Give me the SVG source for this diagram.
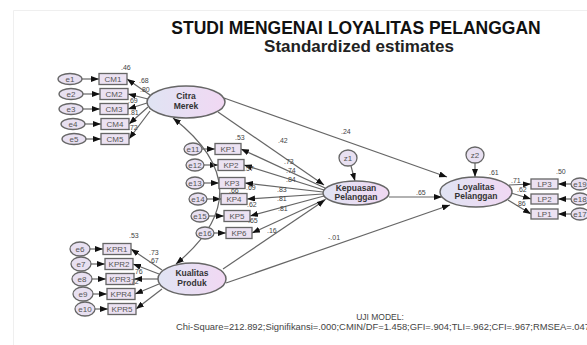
<svg xmlns="http://www.w3.org/2000/svg" width="587" height="345" viewBox="0 0 587 345">
<defs>
<linearGradient id="lat" x1="0" x2="1" y1="0" y2="0"><stop offset="0" stop-color="#e0e4f3"/><stop offset="1" stop-color="#f1d8f3"/></linearGradient>
<marker id="ah" viewBox="0 0 8 6" refX="8" refY="3" markerWidth="8" markerHeight="6" markerUnits="userSpaceOnUse" orient="auto-start-reverse"><path d="M0,0 L8,3 L0,6 z" fill="#111"/></marker>
<style>
.lat{fill:url(#lat);stroke:#666;stroke-width:1.5}
.obs{fill:#ece2f2;stroke:#666;stroke-width:1.3}
.err{fill:#e8e0f1;stroke:#666;stroke-width:1.3}
.c{stroke:#666;stroke-width:1.2;fill:none;marker-end:url(#ah)}
.t{font-family:"Liberation Sans",Arial,sans-serif;text-anchor:middle}
.lt{font-size:8.5px;font-weight:bold;fill:#333}
.ot{font-size:8px;fill:#555}
.n{font-family:"Liberation Sans",Arial,sans-serif;font-size:7px;fill:#444}
</style>
</defs>
<rect width="587" height="345" fill="#fff"/>
<path d="M13.5,345 V10.5 H587" fill="none" stroke="#efefef" stroke-width="1"/>
<g id="title" class="t">
<text x="356" y="34" font-size="17.5" font-weight="bold" fill="#111">STUDI MENGENAI LOYALITAS PELANGGAN</text>
<text x="359" y="52" font-size="17" font-weight="bold" fill="#222">Standardized estimates</text>
</g>
<g id="connectors">
<line class="c" x1="82" y1="79" x2="99" y2="79"/>
<line class="c" x1="83" y1="94" x2="100" y2="94"/>
<line class="c" x1="83" y1="109" x2="100" y2="109"/>
<line class="c" x1="85" y1="124" x2="101" y2="124"/>
<line class="c" x1="86" y1="139" x2="101" y2="139"/>
<line class="c" x1="150" y1="95" x2="127" y2="79"/>
<line class="c" x1="148" y1="99" x2="128" y2="94"/>
<line class="c" x1="147" y1="103" x2="128" y2="109"/>
<line class="c" x1="148" y1="107" x2="129" y2="124"/>
<line class="c" x1="150" y1="111" x2="129" y2="139"/>
<line class="c" x1="202" y1="149" x2="215" y2="149"/>
<line class="c" x1="204" y1="165" x2="218" y2="165"/>
<line class="c" x1="204" y1="183" x2="219" y2="183"/>
<line class="c" x1="207" y1="199" x2="221" y2="199"/>
<line class="c" x1="209" y1="216" x2="224" y2="216"/>
<line class="c" x1="214" y1="233" x2="226" y2="233"/>
<line class="c" x1="325" y1="188" x2="241" y2="149"/>
<line class="c" x1="324" y1="190" x2="244" y2="165"/>
<line class="c" x1="323" y1="192" x2="245" y2="183"/>
<line class="c" x1="323" y1="194" x2="247" y2="199"/>
<line class="c" x1="324" y1="196" x2="250" y2="216"/>
<line class="c" x1="326" y1="199" x2="252" y2="233"/>
<line class="c" x1="90" y1="249" x2="103" y2="249"/>
<line class="c" x1="91" y1="264" x2="105" y2="264"/>
<line class="c" x1="92" y1="279" x2="106" y2="279"/>
<line class="c" x1="93" y1="294" x2="107" y2="294"/>
<line class="c" x1="95" y1="309" x2="108" y2="309"/>
<line class="c" x1="162" y1="270" x2="131" y2="249"/>
<line class="c" x1="159" y1="274" x2="133" y2="264"/>
<line class="c" x1="158" y1="279" x2="134" y2="279"/>
<line class="c" x1="159" y1="284" x2="135" y2="294"/>
<line class="c" x1="162" y1="289" x2="136" y2="309"/>
<line class="c" x1="571" y1="184" x2="558" y2="184"/>
<line class="c" x1="571" y1="199" x2="558" y2="199"/>
<line class="c" x1="571" y1="214" x2="558" y2="214"/>
<line class="c" x1="509" y1="185" x2="531" y2="184"/>
<line class="c" x1="511" y1="193" x2="531" y2="199"/>
<line class="c" x1="508" y1="200" x2="531" y2="214"/>
<line class="c" x1="218" y1="112" x2="324" y2="185"/>
<line class="c" x1="224" y1="98" x2="447" y2="177"/>
<line class="c" x1="223" y1="269" x2="325" y2="200"/>
<line class="c" x1="226" y1="283" x2="450" y2="205"/>
<line class="c" x1="389" y1="197" x2="442" y2="197"/>
<line class="c" x1="351" y1="166" x2="355" y2="181"/>
<line class="c" x1="475" y1="163" x2="475" y2="177"/>
<path class="c" d="M173,118 Q265,190 176,264" marker-start="url(#ah)"/>
</g>
<g id="CitraMerek" class="t"><ellipse class="lat" cx="186" cy="102" rx="39" ry="16"/><text class="lt" x="186" y="99">Citra</text><text class="lt" x="186" y="109">Merek</text></g>
<g id="Kepuasan" class="t"><ellipse class="lat" cx="356" cy="193" rx="33" ry="12"/><text class="lt" x="356" y="191">Kepuasan</text><text class="lt" x="356" y="200">Pelanggan</text></g>
<g id="Loyalitas" class="t"><ellipse class="lat" cx="476" cy="192" rx="36" ry="15"/><text class="lt" x="476" y="190">Loyalitas</text><text class="lt" x="476" y="199">Pelanggan</text></g>
<g id="Kualitas" class="t"><ellipse class="lat" cx="192" cy="279" rx="34" ry="16"/><text class="lt" x="192" y="276">Kualitas</text><text class="lt" x="192" y="286">Produk</text></g>
<g id="z1" class="t"><ellipse class="err" cx="348" cy="158" rx="9" ry="8"/><text class="ot" x="348" y="161">z1</text></g>
<g id="z2" class="t"><ellipse class="err" cx="475" cy="155" rx="9" ry="8"/><text class="ot" x="475" y="158">z2</text></g>
<g id="CM1" class="t"><rect class="obs" x="99" y="73.5" width="28" height="11"/><text class="ot" x="113" y="82">CM1</text></g>
<g id="CM2" class="t"><rect class="obs" x="100" y="88.5" width="28" height="11"/><text class="ot" x="114" y="97">CM2</text></g>
<g id="CM3" class="t"><rect class="obs" x="100" y="103.5" width="28" height="11"/><text class="ot" x="114" y="112">CM3</text></g>
<g id="CM4" class="t"><rect class="obs" x="101" y="118.5" width="28" height="11"/><text class="ot" x="115" y="127">CM4</text></g>
<g id="CM5" class="t"><rect class="obs" x="101" y="133.5" width="28" height="11"/><text class="ot" x="115" y="142">CM5</text></g>
<g id="e1" class="t"><ellipse class="err" cx="70" cy="79" rx="12" ry="5.5"/><text class="ot" x="70" y="82">e1</text></g>
<g id="e2" class="t"><ellipse class="err" cx="71" cy="94" rx="12" ry="5.5"/><text class="ot" x="71" y="97">e2</text></g>
<g id="e3" class="t"><ellipse class="err" cx="71" cy="109" rx="12" ry="5.5"/><text class="ot" x="71" y="112">e3</text></g>
<g id="e4" class="t"><ellipse class="err" cx="73" cy="124" rx="12" ry="5.5"/><text class="ot" x="73" y="127">e4</text></g>
<g id="e5" class="t"><ellipse class="err" cx="74" cy="139" rx="12" ry="5.5"/><text class="ot" x="74" y="142">e5</text></g>
<g id="KP1" class="t"><rect class="obs" x="215" y="143.5" width="26" height="11"/><text class="ot" x="228" y="152">KP1</text></g>
<g id="KP2" class="t"><rect class="obs" x="218" y="159.5" width="26" height="11"/><text class="ot" x="231" y="168">KP2</text></g>
<g id="KP3" class="t"><rect class="obs" x="219" y="177.5" width="26" height="11"/><text class="ot" x="232" y="186">KP3</text></g>
<g id="KP4" class="t"><rect class="obs" x="221" y="193.5" width="26" height="11"/><text class="ot" x="234" y="202">KP4</text></g>
<g id="KP5" class="t"><rect class="obs" x="224" y="210.5" width="26" height="11"/><text class="ot" x="237" y="219">KP5</text></g>
<g id="KP6" class="t"><rect class="obs" x="226" y="227.5" width="26" height="11"/><text class="ot" x="239" y="236">KP6</text></g>
<g id="e11" class="t"><ellipse class="err" cx="193" cy="149" rx="9" ry="6"/><text class="ot" x="193" y="152">e11</text></g>
<g id="e12" class="t"><ellipse class="err" cx="195" cy="165" rx="9" ry="6"/><text class="ot" x="195" y="168">e12</text></g>
<g id="e13" class="t"><ellipse class="err" cx="195" cy="183" rx="9" ry="6"/><text class="ot" x="195" y="186">e13</text></g>
<g id="e14" class="t"><ellipse class="err" cx="198" cy="199" rx="9" ry="6"/><text class="ot" x="198" y="202">e14</text></g>
<g id="e15" class="t"><ellipse class="err" cx="200" cy="216" rx="9" ry="6"/><text class="ot" x="200" y="219">e15</text></g>
<g id="e16" class="t"><ellipse class="err" cx="205" cy="233" rx="9" ry="6"/><text class="ot" x="205" y="236">e16</text></g>
<g id="KPR1" class="t"><rect class="obs" x="103" y="243.5" width="28" height="11"/><text class="ot" x="117" y="252">KPR1</text></g>
<g id="KPR2" class="t"><rect class="obs" x="105" y="258.5" width="28" height="11"/><text class="ot" x="119" y="267">KPR2</text></g>
<g id="KPR3" class="t"><rect class="obs" x="106" y="273.5" width="28" height="11"/><text class="ot" x="120" y="282">KPR3</text></g>
<g id="KPR4" class="t"><rect class="obs" x="107" y="288.5" width="28" height="11"/><text class="ot" x="121" y="297">KPR4</text></g>
<g id="KPR5" class="t"><rect class="obs" x="108" y="303.5" width="28" height="11"/><text class="ot" x="122" y="312">KPR5</text></g>
<g id="e6" class="t"><ellipse class="err" cx="80" cy="249" rx="10" ry="7"/><text class="ot" x="80" y="252">e6</text></g>
<g id="e7" class="t"><ellipse class="err" cx="81" cy="264" rx="10" ry="7"/><text class="ot" x="81" y="267">e7</text></g>
<g id="e8" class="t"><ellipse class="err" cx="82" cy="279" rx="10" ry="7"/><text class="ot" x="82" y="282">e8</text></g>
<g id="e9" class="t"><ellipse class="err" cx="83" cy="294" rx="10" ry="7"/><text class="ot" x="83" y="297">e9</text></g>
<g id="e10" class="t"><ellipse class="err" cx="85" cy="309" rx="10" ry="7"/><text class="ot" x="85" y="312">e10</text></g>
<g id="LP3" class="t"><rect class="obs" x="531" y="179" width="27" height="10"/><text class="ot" x="544.5" y="187">LP3</text></g>
<g id="LP2" class="t"><rect class="obs" x="531" y="194" width="27" height="10"/><text class="ot" x="544.5" y="202">LP2</text></g>
<g id="LP1" class="t"><rect class="obs" x="531" y="209" width="27" height="10"/><text class="ot" x="544.5" y="217">LP1</text></g>
<g id="e19" class="t"><ellipse class="err" cx="580" cy="184" rx="9" ry="6"/><text class="ot" x="580" y="187">e19</text></g>
<g id="e18" class="t"><ellipse class="err" cx="580" cy="199" rx="9" ry="6"/><text class="ot" x="580" y="202">e18</text></g>
<g id="e17" class="t"><ellipse class="err" cx="580" cy="214" rx="9" ry="6"/><text class="ot" x="580" y="217">e17</text></g>
<g id="labels" class="n">
<text x="121" y="70">.46</text>
<text x="139" y="83">.68</text>
<text x="140" y="92">.80</text>
<text x="128" y="103">.69</text>
<text x="129" y="115">.81</text>
<text x="128" y="130">.72</text>
<text x="235" y="140">.53</text>
<text x="278" y="143">.42</text>
<text x="341" y="134">.24</text>
<text x="284" y="164">.73</text>
<text x="286" y="173">.74</text>
<text x="286" y="182">.84</text>
<text x="277" y="192">.83</text>
<text x="277" y="201">.81</text>
<text x="278" y="211">.81</text>
<text x="267" y="233">.16</text>
<text x="244" y="171">.57</text>
<text x="246" y="190">.69</text>
<text x="229" y="193">.66</text>
<text x="247" y="207">.62</text>
<text x="248" y="223">.65</text>
<text x="328" y="240">-.01</text>
<text x="416" y="195">.65</text>
<text x="489" y="175">.61</text>
<text x="511" y="183">.71</text>
<text x="556" y="174">.50</text>
<text x="517" y="192">.62</text>
<text x="516" y="206">.86</text>
<text x="129" y="238">.53</text>
<text x="149" y="255">.73</text>
<text x="149" y="263">.67</text>
<text x="133" y="274">.76</text>
<text x="129" y="284">.72</text>
</g>
<g id="fit" class="t">
<text x="380" y="320" font-size="8.5" fill="#444">UJI MODEL:</text>
<text x="176" y="330" font-size="8.5" fill="#444" style="text-anchor:start" textLength="414" lengthAdjust="spacingAndGlyphs">Chi-Square=212.892;Signifikansi=.000;CMIN/DF=1.458;GFI=.904;TLI=.962;CFI=.967;RMSEA=.047</text>
</g>
</svg>
